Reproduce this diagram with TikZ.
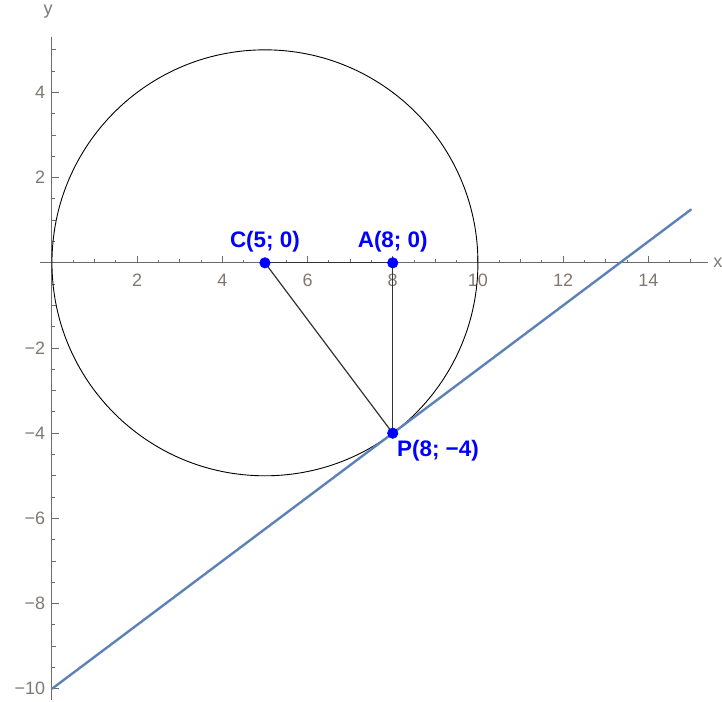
\documentclass[tikz,border=0pt]{standalone}
\usepackage{fontspec}
\setmainfont{Liberation Sans}
\usetikzlibrary{calc}
\usepackage{tkz-euclide}
\definecolor{plotblue}{rgb}{0.368,0.507,0.710}
\definecolor{axisgray}{gray}{0.42}
\definecolor{ticktext}{rgb}{0.5,0.47,0.44}
\tikzset{
  ticklabel/.style={text=ticktext,font=\fontsize{12}{14}\selectfont,inner sep=1pt},
  ptlabel/.style={text=blue,font=\bfseries\fontsize{15}{17}\selectfont,inner sep=1pt}
}

\begin{document}
\begin{tikzpicture}
\useasboundingbox (-1.22,-10.31) rectangle (15.73,6.17);
\tkzSetUpLine[line width=0.6pt,color=black]

% axes
\draw[axisgray,line width=0.7pt] (-0.28,0) -- (15.4,0);
\draw[axisgray,line width=0.7pt] (0,-10.26) -- (0,5.3);
\foreach \i in {1,...,30}{
  \draw[axisgray,line width=0.6pt] (\i/2,0) -- ++(0,0.07);}
\foreach \i in {1,...,15}{
  \draw[axisgray,line width=0.6pt] (\i,0) -- ++(0,0.1);}
\foreach \i in {2,4,...,14}{
  \draw[axisgray,line width=0.6pt] (\i,0) -- ++(0,0.16);
  \node[ticklabel] at (\i,-0.4) {\i};}
\foreach \i in {-20,...,10}{
  \draw[axisgray,line width=0.6pt] (0,\i/2) -- ++(0.07,0);}
\foreach \i in {-10,...,5}{
  \draw[axisgray,line width=0.6pt] (0,\i) -- ++(0.1,0);}
\foreach \i in {2,4}{
  \draw[axisgray,line width=0.6pt] (0,\i) -- ++(0.16,0);
  \node[ticklabel,anchor=east] at (-0.12,\i) {\i};}
\foreach \i in {2,4,...,10}{
  \draw[axisgray,line width=0.6pt] (0,-\i) -- ++(0.16,0);
  \node[ticklabel,anchor=east] at (-0.12,-\i) {−\i};}
\node[ticklabel] (xlab) at (15.63,0) {x};
\node[ticklabel] (ylab) at (-0.09,5.9) {y};

\tkzDefPoints{0/0/O,5/0/C,8/0/A,8/-4/P,10/0/X}
\tkzDefPoints{0/-10/L,15/1.25/R}

\tkzDrawCircle[color=black,line width=0.6pt](C,X)
\tkzDrawSegments[color=black!80,line width=0.8pt](C,A A,P C,P)
\tkzDrawSegment[color=plotblue,line width=1.6pt](L,R)

\tkzDrawPoints[size=7,color=blue,fill=blue](C,A,P)
\tkzLabelPoint[above=0.2cm,ptlabel](C){C(5; 0)}
\tkzLabelPoint[above=0.2cm,ptlabel](A){A(8; 0)}
\tkzLabelPoint[below right=0.12cm and 0.06cm,ptlabel](P){P(8; −4)}

\end{tikzpicture}
\end{document}
